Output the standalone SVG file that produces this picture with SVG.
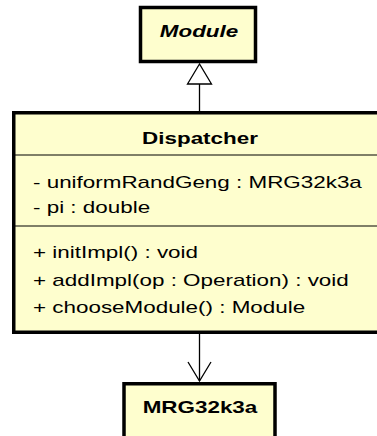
<svg xmlns="http://www.w3.org/2000/svg" width="377" height="436" viewBox="0 0 377 436">
<style>
.box{fill:#FEFECE;stroke:#000;stroke-width:3.5}
.div{stroke:#000;stroke-width:1.2}
.t{font-family:"Liberation Sans",Arial,sans-serif;font-size:16.6px;fill:#000}
.b{font-weight:bold}
.c{text-anchor:middle}
.edge{stroke:#000;stroke-width:1.3;fill:none}
</style>
<rect width="377" height="436" fill="#fff"/>
<g id="connectors">
<line class="edge" x1="199.5" y1="84" x2="199.5" y2="111"/>
<polygon points="199.5,64 187.5,84 211.5,84" fill="#fff" stroke="#000" stroke-width="1.3"/>
<line class="edge" x1="199.5" y1="334" x2="199.5" y2="381"/>
<polyline class="edge" points="188,362 199.5,381 211,362"/>
</g>
<g id="Module">
<rect class="box" x="140.5" y="7.5" width="115" height="54" stroke-width="3"/>
<text class="t b c" font-style="italic" transform="translate(199,37) scale(1.35,1)">Module</text>
</g>
<g id="Dispatcher">
<rect class="box" x="13.75" y="112.75" width="400" height="219.5"/>
<line class="div" x1="14" y1="155" x2="377" y2="155"/>
<line class="div" x1="14" y1="226" x2="377" y2="226"/>
<text class="t b c" transform="translate(200,144) scale(1.35,1)">Dispatcher</text>
<text class="t" transform="translate(33,188) scale(1.35,1)">- uniformRandGeng : MRG32k3a</text>
<text class="t" transform="translate(33,213) scale(1.35,1)">- pi : double</text>
<text class="t" transform="translate(33,258) scale(1.35,1)">+ initImpl() : void</text>
<text class="t" transform="translate(33,285.5) scale(1.35,1)">+ addImpl(op : Operation) : void</text>
<text class="t" transform="translate(33,313) scale(1.35,1)">+ chooseModule() : Module</text>
</g>
<g id="MRG32k3a">
<rect class="box" x="124" y="383.75" width="151" height="80"/>
<text class="t b c" transform="translate(200,413) scale(1.35,1)">MRG32k3a</text>
</g>
</svg>
